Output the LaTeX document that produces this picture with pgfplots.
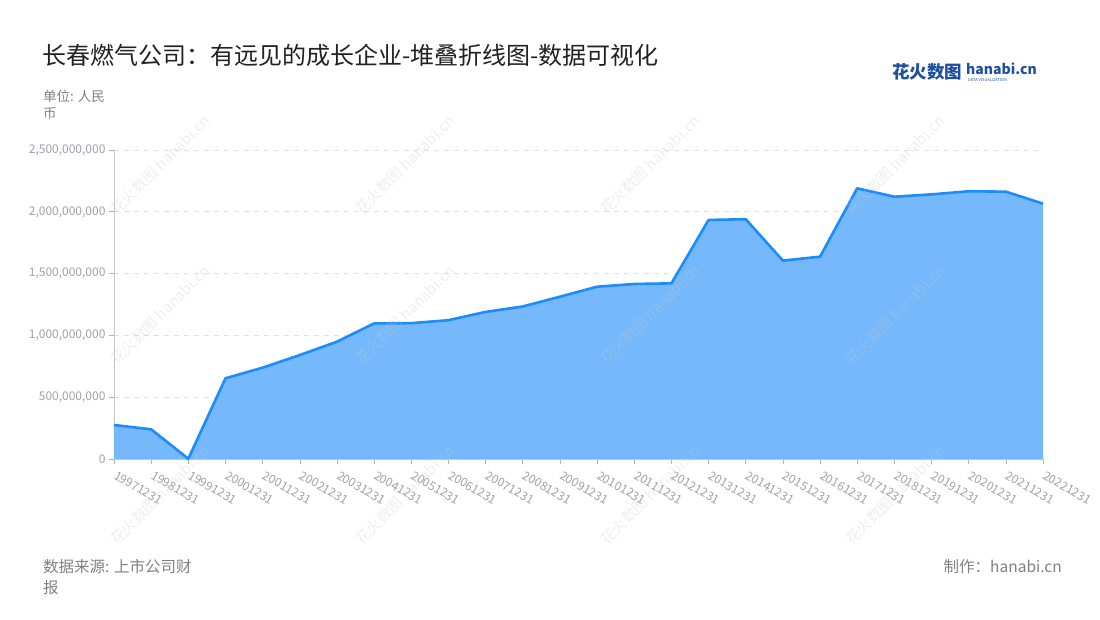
\documentclass[border=0pt]{standalone}
\usepackage{fontspec}
\setmainfont{Noto Sans CJK SC}
\usepackage{pgfplots}
\usepackage{pgfplotstable}
\pgfplotsset{compat=1.18}
\definecolor{areafill}{HTML}{75B9FC}
\definecolor{lineblue}{HTML}{1A8CFF}
\definecolor{ticktext}{HTML}{A0A0AC}
\definecolor{titletext}{HTML}{222222}
\definecolor{subtext}{HTML}{808080}
\definecolor{logoblue}{HTML}{1E4FA3}
\definecolor{wm}{HTML}{C8C8CC}
\pgfplotstableread{
idx date value
0 19971231 275000000
1 19981231 240000000
2 19991231 2000000
3 20001231 653000000
4 20011231 739000000
5 20021231 841000000
6 20031231 949000000
7 20041231 1097000000
8 20051231 1099000000
9 20061231 1123000000
10 20071231 1190000000
11 20081231 1234000000
12 20091231 1313000000
13 20101231 1394000000
14 20111231 1416000000
15 20121231 1421000000
16 20131231 1934000000
17 20141231 1940000000
18 20151231 1605000000
19 20161231 1637000000
20 20171231 2190000000
21 20181231 2122000000
22 20191231 2141000000
23 20201231 2166000000
24 20211231 2163000000
25 20221231 2066000000
}\data
\begin{document}
\begin{tikzpicture}[x=1pt,y=1pt]
\useasboundingbox (0pt,0pt) rectangle (1100pt,620pt);
\node[anchor=west, font=\fontsize{24}{24}\selectfont, text=titletext, inner sep=0] at (42pt,565pt) {长春燃气公司：有远见的成长企业-堆叠折线图-数据可视化};
\node[anchor=north west, font=\fontsize{13.5}{17}\selectfont, text=subtext, align=left, inner sep=0] at (43pt,530pt) {单位: 人民\\币};
% logo
\node[anchor=west, font=\fontsize{17.5}{18}\selectfont\bfseries, text=logoblue, inner sep=0] at (892pt,548pt) {花火数图};
\node[anchor=west, font=\fontsize{14}{14}\selectfont\bfseries, text=logoblue, inner sep=0] at (966pt,551pt) {hanabi.cn};
\node[anchor=west, font=\fontsize{4}{4}\selectfont, text=logoblue, inner sep=0] at (968pt,540pt) {DATA VISUALIZATION};
\begin{axis}[
  at={(114pt,161pt)}, anchor=south west,
  scale only axis, width=929pt, height=309pt,
  xmin=0, xmax=25, ymin=0, ymax=2500000000,
  axis x line*=bottom, axis y line*=left,
  axis line style={-, draw=black!22, line width=0.8pt},
  xtick={0,...,25},
  xticklabels from table={\data}{date},
  ytick={0,500000000,1000000000,1500000000,2000000000,2500000000},
  scaled y ticks=false,
  yticklabel style={/pgf/number format/.cd, fixed, 1000 sep={,}, assume math mode=true},
  ticklabel style={font=\fontsize{12}{12}\selectfont, text=ticktext},
  xticklabel style={xshift=3pt, yshift=-5pt, rotate=-30, anchor=north west, inner sep=1pt},
  tick align=outside, major tick length=5pt,
  tick style={draw=black!30, line width=0.6pt},
  ymajorgrids, grid style={draw=black!12, line width=0.8pt, dash pattern=on 5pt off 5pt},
  clip=false,
]
\addplot[fill=areafill, draw=none] table[x=idx, y=value]{\data} \closedcycle;
\addplot[lineblue, line width=2.6pt, line join=round] table[x=idx, y=value]{\data};
\end{axis}
% watermarks
\foreach \x in {160,405,650,895}{
  \foreach \y in {455,305,125}{
    \node[rotate=45, font=\fontsize{15}{15}\selectfont, text=wm, opacity=0.3] at (\x pt,\y pt) {花火数图 hanabi.cn};
  }
}
% footer
\node[anchor=north west, font=\fontsize{15.5}{21}\selectfont, text=subtext, align=left, inner sep=0] at (43pt,61pt) {数据来源: 上市公司财\\报};
\node[anchor=north east, font=\fontsize{15.5}{21}\selectfont, text=subtext, inner sep=0] at (1062pt,61pt) {制作：hanabi.cn};
\end{tikzpicture}
\end{document}
